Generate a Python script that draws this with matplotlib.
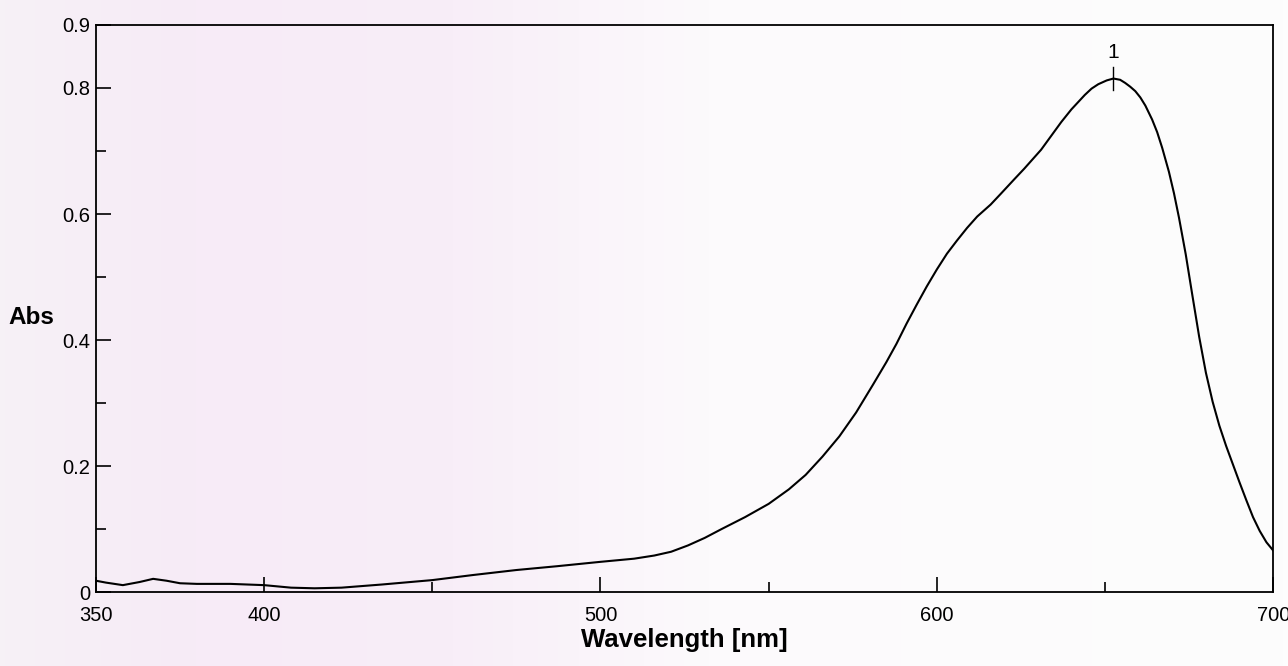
import numpy as np
import matplotlib.pyplot as plt
from matplotlib.colors import LinearSegmentedColormap

# spectrum (nm, absorbance)
wavelength = [350, 353, 358, 363, 367, 371, 375, 380, 390, 400, 408, 415, 423, 435,
              450, 462, 475, 487, 500, 510, 516, 521, 526, 531, 536, 543, 550, 556,
              561, 566, 571, 576, 581, 585, 588, 591, 594, 597, 600, 603, 606, 609,
              612, 616, 619, 623, 626, 631, 634, 637, 640, 644, 646, 648, 650.5,
              652.5, 654.5, 656, 657.5, 659, 660.5, 662, 664, 665.5, 667, 669,
              670.5, 672, 674, 676, 678, 680, 682, 684, 686, 688, 690, 692, 694,
              696, 698, 700]
absorbance = [0.018, 0.015, 0.011, 0.016, 0.021, 0.018, 0.014, 0.013, 0.013, 0.011,
              0.007, 0.006, 0.007, 0.012, 0.019, 0.027, 0.035, 0.041, 0.048, 0.053,
              0.058, 0.064, 0.074, 0.086, 0.100, 0.119, 0.140, 0.163, 0.186, 0.215,
              0.247, 0.285, 0.329, 0.365, 0.394, 0.426, 0.456, 0.485, 0.512, 0.537,
              0.558, 0.578, 0.596, 0.615, 0.632, 0.655, 0.672, 0.702, 0.724, 0.746,
              0.766, 0.789, 0.799, 0.806, 0.812, 0.815, 0.813, 0.808, 0.802, 0.795,
              0.785, 0.772, 0.750, 0.730, 0.705, 0.667, 0.633, 0.594, 0.536, 0.470,
              0.405, 0.348, 0.302, 0.264, 0.232, 0.203, 0.174, 0.146, 0.119, 0.097,
              0.079, 0.066]

peak_nm = 652.5
peak_abs = 0.815
peak_label = '1'

x_ticks = [350, 400, 500, 600, 700]
x_minor = [450, 550, 650]
y_ticks = [0, 0.2, 0.4, 0.6, 0.8, 0.9]
y_tick_labels = ['0', '0.2', '0.4', '0.6', '0.8', '0.9']
y_minor = [0.1, 0.3, 0.5, 0.7]

plt.rcParams['font.family'] = ['Liberation Sans', 'DejaVu Sans']

fig = plt.figure(figsize=(12.88, 6.66), dpi=100)

# faint pink tint of the scanned paper
bg = fig.add_axes([0, 0, 1, 1], zorder=-10)
tint = LinearSegmentedColormap.from_list(
    'paper', [(0.0, '#f6f1f6'), (0.15, '#f7ebf7'), (0.35, '#f8eef8'),
              (0.55, '#fcfafc'), (1.0, '#fdfdfd')])
bg.imshow(np.linspace(0, 1, 256)[None, :], aspect='auto', cmap=tint,
          extent=[0, 1, 0, 1])
bg.axis('off')

ax = fig.add_axes([0.0745, 0.111, 0.914, 0.8515])
ax.patch.set_alpha(0)

ax.plot(wavelength, absorbance, color='black', lw=1.5)

# peak marker
ax.plot([peak_nm, peak_nm], [peak_abs - 0.018, peak_abs + 0.018], color='black', lw=1)
ax.text(peak_nm, peak_abs + 0.026, peak_label, ha='center', va='bottom', fontsize=15)

ax.set_xlim(350, 700)
ax.set_ylim(0, 0.9)
ax.set_xticks(x_ticks)
ax.set_xticks(x_minor, minor=True)
ax.set_yticks(y_ticks)
ax.set_yticklabels(y_tick_labels)
ax.set_yticks(y_minor, minor=True)

ax.tick_params(which='major', direction='in', length=11, width=1.2, labelsize=14.5)
ax.tick_params(which='minor', direction='in', length=7, width=1.2)
ax.tick_params(axis='x', which='major', pad=10)
ax.tick_params(axis='y', which='major', pad=4)
for s in ax.spines.values():
    s.set_linewidth(1.3)

ax.text(-0.0745, 0.485, 'Abs', transform=ax.transAxes, fontsize=17.5,
        fontweight='bold', ha='left', va='center')
ax.set_xlabel('Wavelength [nm]', fontsize=18.5, fontweight='bold', labelpad=2)

fig.savefig('out.png', dpi=100)
